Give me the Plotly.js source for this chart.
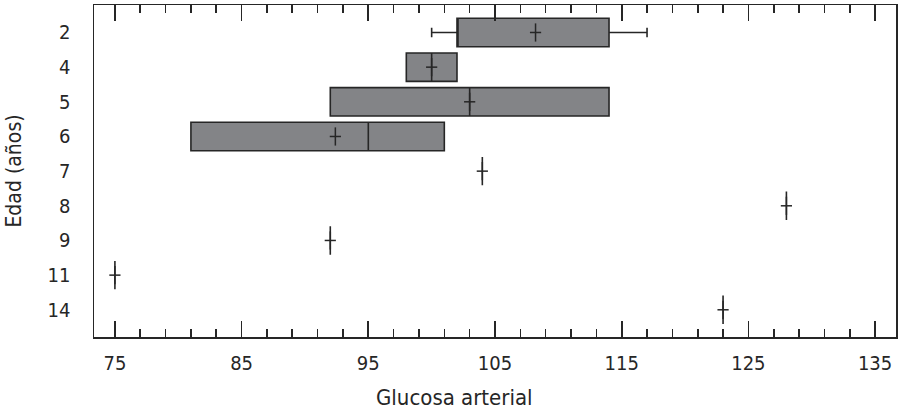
<!DOCTYPE html>
<html>
<head>
<meta charset="utf-8">
<script src="https://cdn.plot.ly/plotly-3.0.1.min.js"></script>
<style>html,body{margin:0;padding:0;background:#fff;}#chart{width:898px;height:411px;}</style>
</head>
<body>
<div id="chart"></div>
<script>
// Data
var ages = ['2', '4', '5', '6', '7', '8', '9', '11', '14'];
var q1 = [102, 98, 92, 81, 104, 128, 92, 75, 123];
var medians = [102, 100, 103, 95, 104, 128, 92, 75, 123];
var q3 = [114, 102, 114, 101, 104, 128, 92, 75, 123];
var lowerFence = [100, 98, 92, 81, 104, 128, 92, 75, 123];
var upperFence = [117, 102, 114, 101, 104, 128, 92, 75, 123];
var means = [108.2, 100, 103, 92.4, 104, 128, 92, 75, 123];
var xTickVals = [75, 85, 95, 105, 115, 125, 135];

var FONT = 'Liberation Sans Narrow, DejaVu Sans Condensed, Arial Narrow, sans-serif';
var INK = '#262626';

var boxTrace = {
  type: 'box',
  orientation: 'h',
  y: ages,
  q1: q1,
  median: medians,
  q3: q3,
  lowerfence: lowerFence,
  upperfence: upperFence,
  boxpoints: false,
  width: 0.82,
  whiskerwidth: 0.33,
  fillcolor: '#838487',
  line: {color: INK, width: 1.6},
  hoverinfo: 'skip',
  showlegend: false
};

var meanV = {
  type: 'scatter', mode: 'markers', x: means, y: ages,
  marker: {symbol: 'line-ns', size: 13, line: {color: INK, width: 1.5}},
  hoverinfo: 'skip', showlegend: false
};
var meanH = {
  type: 'scatter', mode: 'markers', x: means, y: ages, xaxis: 'x2',
  marker: {symbol: 'line-ew', size: 8, line: {color: INK, width: 1.5}},
  hoverinfo: 'skip', showlegend: false
};

var xRange = [73.35, 136.65];
var TW = 1.6;

var layout = {
  width: 898, height: 411,
  margin: {l: 94, r: 2, t: 5, b: 74},
  paper_bgcolor: '#fff', plot_bgcolor: '#fff',
  font: {family: FONT, color: INK, size: 20},
  xaxis: {
    range: xRange, autorange: false, side: 'bottom',
    tickmode: 'array', tickvals: xTickVals,
    ticks: 'inside', ticklen: 16, tickwidth: TW, tickcolor: INK,
    minor: {tick0: 75, dtick: 2, ticks: 'inside', ticklen: 8, tickwidth: TW, tickcolor: INK, showgrid: false},
    showline: true, linecolor: INK, linewidth: 1.5, mirror: false,
    showgrid: false, zeroline: false,
    tickfont: {family: FONT, size: 20, color: INK},
    ticklabelstandoff: 7
  },
  xaxis2: {
    range: xRange, autorange: false, overlaying: 'x', side: 'top', anchor: 'y',
    tickmode: 'array', tickvals: xTickVals,
    ticks: 'inside', ticklen: 16, tickwidth: TW, tickcolor: INK,
    minor: {tick0: 75, dtick: 2, ticks: 'inside', ticklen: 8, tickwidth: TW, tickcolor: INK, showgrid: false},
    showline: true, linecolor: INK, linewidth: 1.5,
    showgrid: false, zeroline: false, showticklabels: false
  },
  yaxis: {
    type: 'category', categoryorder: 'array', categoryarray: ages,
    range: [8.785, -0.793], autorange: false,
    ticks: '', showline: true, linecolor: INK, linewidth: 1.5, mirror: true,
    showgrid: false, zeroline: false,
    tickfont: {family: FONT, size: 20, color: INK},
    ticklabelstandoff: 18,
    title: {text: 'Edad (años)', font: {family: FONT, size: 21, color: INK}, standoff: 20}
  },
  annotations: [{
    text: 'Glucosa arterial', xref: 'paper', yref: 'paper',
    x: 0.449, y: -0.181, xanchor: 'center', yanchor: 'middle',
    showarrow: false, font: {family: FONT, size: 22, color: INK}
  }]
};

Plotly.newPlot('chart', [boxTrace, meanV, meanH], layout, {displayModeBar: false, staticPlot: true});
</script>
</body>
</html>
